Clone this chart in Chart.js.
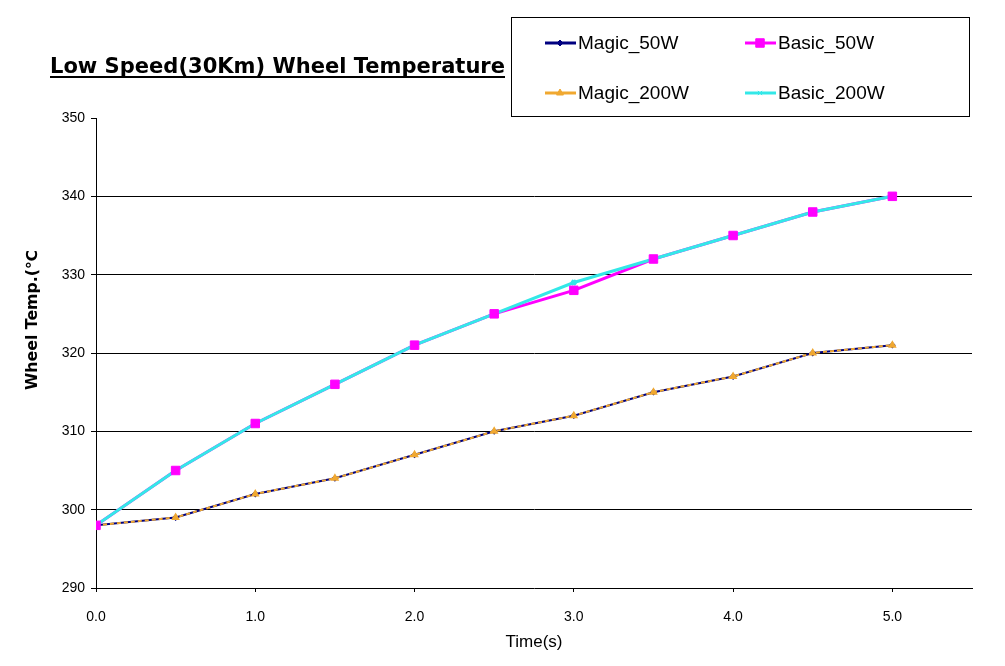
<!DOCTYPE html>
<html>
<head>
<meta charset="utf-8">
<script src="https://cdn.jsdelivr.net/npm/chart.js@4.4.0/dist/chart.umd.min.js"></script>
<style>
  body { margin: 0; background: #fff; }
  #wrap { width: 1005px; height: 666px; }
</style>
</head>
<body>
<div id="wrap"><canvas id="myChart" width="1005" height="666"></canvas></div>
<script>
var ctx = document.getElementById("myChart");

// time in seconds
const times = [0, 0.5, 1.0, 1.5, 2.0, 2.5, 3.0, 3.5, 4.0, 4.5, 5.0];
const magic50 = [298, 299, 302, 304, 307, 310, 312, 315, 317, 320, 321];
const magic200 = [298, 299, 302, 304, 307, 310, 312, 315, 317, 320, 321];
const basic50 = [298, 305, 311, 316, 321, 325, 328, 332, 335, 338, 340];
const basic200 = [298, 305, 311, 316, 321, 325, 329, 332, 335, 338, 340];
const yTicks = [290, 300, 310, 320, 330, 340, 350];

const titleText = "Low Speed(30Km) Wheel Temperature";
const yTitle = "Wheel Temp.(℃";

function pts(vals) {
  return vals.map((v, i) => ({ x: times[i], y: v }));
}

const legendItems = [
  { label: "Magic_50W", color: "#000080", style: "rectRot", r: 3, col: 0, row: 0 },
  { label: "Basic_50W", color: "#ff00ff", style: "rect", r: 6, col: 1, row: 0 },
  { label: "Magic_200W", color: "#f0a830", style: "triangle", r: 4, col: 0, row: 1 },
  { label: "Basic_200W", color: "#33e8e8", style: "crossRot", r: 3, col: 1, row: 1 },
];

function fitText(c, text, x, y, width) {
  let w = c.measureText(text).width;
  c.save();
  c.translate(x, y);
  c.scale(width / w, 1);
  c.fillText(text, 0, 0);
  c.restore();
}

const extrasPlugin = {
  id: "extras",
  afterDraw(chart) {
    const c = chart.ctx;
    c.save();
    // title, underlined
    c.fillStyle = "#000";
    c.textBaseline = "alphabetic";
    c.font = "bold 21px 'DejaVu Sans'";
    fitText(c, titleText, 50, 73, 455);
    c.fillRect(50, 76, 455, 2);

    // y axis title, rotated
    c.save();
    c.translate(37, 390);
    c.rotate(-Math.PI / 2);
    c.font = "bold 15px 'DejaVu Sans'";
    fitText(c, yTitle, 0, 0, 140);
    c.restore();

    // legend box
    c.fillStyle = "#fff";
    c.fillRect(511, 17, 458, 99);
    c.strokeStyle = "#000";
    c.lineWidth = 1;
    c.strokeRect(511.5, 17.5, 458, 99);
    c.font = "19px 'Liberation Sans'";
    c.textBaseline = "middle";
    legendItems.forEach(it => {
      const x0 = it.col === 0 ? 545 : 745;
      const y0 = it.row === 0 ? 43 : 93;
      c.strokeStyle = it.color;
      c.fillStyle = it.color;
      c.lineWidth = 3;
      c.beginPath();
      c.moveTo(x0, y0);
      c.lineTo(x0 + 31, y0);
      c.stroke();
      c.lineWidth = 1;
      Chart.helpers.drawPoint(c, { pointStyle: it.style, radius: it.r, borderWidth: 1 }, x0 + 15, y0);
      c.fillStyle = "#000";
      c.fillText(it.label, x0 + 33, y0 + 1);
    });
    c.restore();
  },
};

new Chart(ctx, {
  type: "line",
  data: {
    datasets: [
      {
        label: "Basic_50W markers",
        data: pts(basic50),
        showLine: false,
        pointStyle: "rect",
        pointRadius: 6,
        pointBackgroundColor: "#ff00ff",
        pointBorderColor: "#ff00ff",
        order: 1,
      },
      {
        label: "Basic_200W",
        data: pts(basic200),
        borderColor: "#33e8e8",
        borderWidth: 3,
        pointStyle: "crossRot",
        pointRadius: 3,
        pointBorderColor: "#33e8e8",
        order: 2,
      },
      {
        label: "Basic_50W",
        data: pts(basic50),
        borderColor: "#ff00ff",
        borderWidth: 3,
        pointRadius: 0,
        order: 3,
      },
      {
        label: "Magic_200W",
        data: pts(magic200),
        borderColor: "#f0a830",
        borderWidth: 2,
        borderDash: [4, 3],
        pointStyle: "triangle",
        pointRadius: 3,
        pointBackgroundColor: "#f0a830",
        pointBorderColor: "#f0a830",
        order: 4,
      },
      {
        label: "Magic_50W",
        data: pts(magic50),
        borderColor: "#000080",
        borderWidth: 2,
        pointStyle: "rectRot",
        pointRadius: 2,
        pointBackgroundColor: "#000080",
        pointBorderColor: "#000080",
        order: 5,
      },
    ],
  },
  options: {
    responsive: false,
    animation: false,
    layout: { padding: { top: 118, right: 33, left: 0, bottom: 0 } },
    plugins: {
      legend: { display: false },
      title: { display: false },
      tooltip: { enabled: false },
    },
    scales: {
      x: {
        type: "linear",
        min: 0,
        max: 5.5,
        afterFit(s) { s.height = 78; },
        ticks: {
          stepSize: 1,
          color: "#000",
          font: { family: "'Liberation Sans'", size: 14 },
          padding: 17,
          maxRotation: 0,
          autoSkip: false,
          callback: v => (v <= 5 ? Number(v).toFixed(1) : ""),
        },
        grid: {
          drawOnChartArea: false,
          tickLength: 4,
          tickColor: c => (c.tick && c.tick.value > 5 ? "rgba(0,0,0,0)" : "#000"),
        },
        border: { color: "#000", width: 1 },
        title: {
          display: true,
          text: "Time(s)",
          color: "#000",
          font: { family: "'Liberation Sans'", size: 17 },
          padding: { top: 0, bottom: 13 },
        },
      },
      y: {
        min: 290,
        max: 350,
        afterFit(s) { s.width = 96; },
        afterBuildTicks(s) { s.ticks = yTicks.map(v => ({ value: v })); },
        ticks: {
          color: "#000",
          font: { family: "'Liberation Sans'", size: 14 },
          padding: 6,
        },
        grid: {
          color: c => (c.tick && (c.tick.value === 350 || c.tick.value === 290) ? "rgba(0,0,0,0)" : "#000"),
          tickColor: "#000",
          tickLength: 5,
          lineWidth: 1,
        },
        border: { color: "#000", width: 1 },
      },
    },
  },
  plugins: [extrasPlugin],
});
</script>
</body>
</html>
